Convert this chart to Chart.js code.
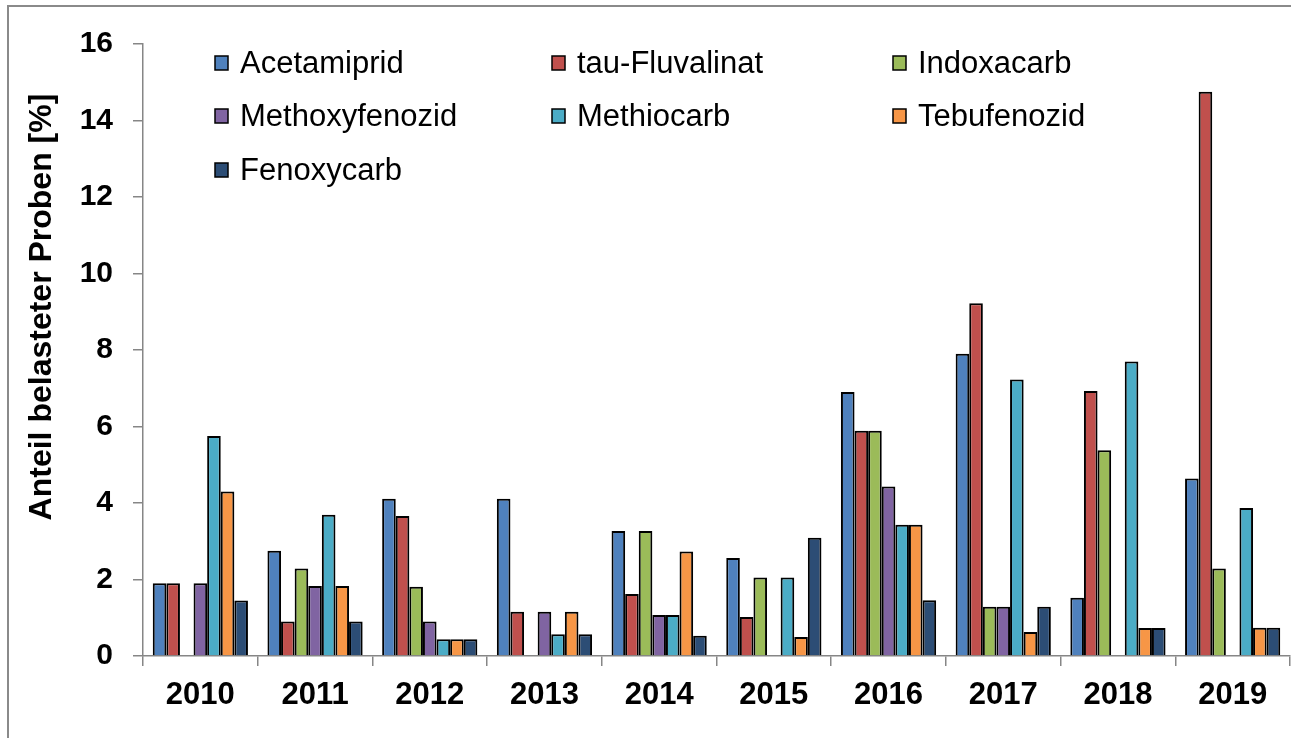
<!DOCTYPE html>
<html>
<head>
<meta charset="utf-8">
<script src="https://cdn.jsdelivr.net/npm/chart.js@4.4.1/dist/chart.umd.min.js"></script>
<style>
  html, body { margin:0; padding:0; background:#fff; }
  #wrap { position:relative; width:1291px; height:738px; overflow:hidden; }
  #frame { position:absolute; left:7px; top:5px; width:1400px; height:900px; border-left:2px solid #8a8a8a; border-top:2px solid #8a8a8a; }
  canvas { position:absolute; left:0; top:0; }
</style>
</head>
<body>
<div id="wrap">
  <div id="frame"></div>
  <canvas id="c" width="1291" height="738"></canvas>
</div>
<script>
const years = ['2010','2011','2012','2013','2014','2015','2016','2017','2018','2019'];
const yTicks = [0, 2, 4, 6, 8, 10, 12, 14, 16];
const axisTitle = 'Anteil belasteter Proben [%]';

const seriesNames = ['Acetamiprid','tau-Fluvalinat','Indoxacarb','Methoxyfenozid','Methiocarb','Tebufenozid','Fenoxycarb'];
const seriesColors = ['#4F81BD','#C0504D','#9BBB59','#8064A2','#4BACC6','#F79646','#2C4D75'];

const acetamiprid    = [1.90, 2.75, 4.11, 4.11, 3.27, 2.56, 6.90, 7.90, 1.52, 4.64];
const tauFluvalinat  = [1.90, 0.90, 3.66, 1.16, 1.62, 1.02, 5.89, 9.22, 6.93, 14.75];
const indoxacarb     = [null, 2.29, 1.81, null, 3.27, 2.05, 5.89, 1.29, 5.38, 2.29];
const methoxyfenozid = [1.90, 1.83, 0.90, 1.16, 1.07, null, 4.43, 1.29, null, null];
const methiocarb     = [5.75, 3.69, 0.44, 0.57, 1.07, 2.05, 3.43, 7.23, 7.70, 3.87];
const tebufenozid    = [4.30, 1.83, 0.44, 1.16, 2.73, 0.50, 3.43, 0.63, 0.73, 0.74];
const fenoxycarb     = [1.45, 0.90, 0.44, 0.57, 0.53, 3.09, 1.46, 1.29, 0.73, 0.74];

const seriesValues = [acetamiprid, tauFluvalinat, indoxacarb, methoxyfenozid, methiocarb, tebufenozid, fenoxycarb];

const datasets = seriesNames.map((name, i) => ({
  label: name,
  data: seriesValues[i],
  backgroundColor: seriesColors[i],
  borderColor: '#000000',
  borderWidth: 2,
  categoryPercentage: 0.83,
  barPercentage: 1.0
}));

const customLegend = {
  id: 'customLegend',
  afterDraw(chart) {
    const ctx = chart.ctx;
    const colX = [215, 552, 893];
    const rowY = [63, 116, 170];
    ctx.save();
    ctx.font = '31px "Liberation Sans", Arial, sans-serif';
    ctx.textBaseline = 'middle';
    ctx.textAlign = 'left';
    chart.data.datasets.forEach((ds, i) => {
      const cx = colX[i % 3];
      const cy = rowY[Math.floor(i / 3)];
      ctx.fillStyle = ds.backgroundColor;
      ctx.fillRect(cx, cy - 7, 13, 14);
      ctx.strokeStyle = '#000';
      ctx.lineWidth = 1.5;
      ctx.strokeRect(cx, cy - 7, 13, 14);
      ctx.fillStyle = '#000';
      ctx.fillText(ds.label, cx + 25, cy + 1);
    });
    // axis title
    ctx.font = 'bold 32px "Liberation Sans", Arial, sans-serif';
    ctx.translate(42, 307);
    ctx.rotate(-Math.PI / 2);
    ctx.textAlign = 'center';
    ctx.textBaseline = 'middle';
    ctx.fillText(axisTitle, 0, 0);
    ctx.restore();
  }
};

new Chart(document.getElementById('c'), {
  type: 'bar',
  data: { labels: years, datasets },
  options: {
    responsive: false,
    animation: false,
    layout: { padding: { top: 44, right: 1, left: 0, bottom: 0 } },
    plugins: { legend: { display: false }, tooltip: { enabled: false } },
    scales: {
      x: {
        grid: { drawOnChartArea: false, drawTicks: true, tickLength: 10, color: '#868686', lineWidth: 1.5, offset: true },
        border: { display: true, color: '#868686', width: 1.5 },
        ticks: { color: '#000', font: { family: '"Liberation Sans", Arial, sans-serif', size: 31, weight: 'bold' }, padding: 11, maxRotation: 0, autoSkip: false },
        afterFit(scale) { scale.height = 82; }
      },
      y: {
        min: 0, max: 16,
        afterBuildTicks(scale) { scale.ticks = yTicks.map(v => ({ value: v })); },
        grid: { drawOnChartArea: false, drawTicks: true, tickLength: 10, color: '#868686', lineWidth: 1.5 },
        border: { display: true, color: '#868686', width: 1.5 },
        ticks: { color: '#000', font: { family: '"Liberation Sans", Arial, sans-serif', size: 30, weight: 'bold' }, padding: 20 },
        afterFit(scale) { scale.width = 143; }
      }
    }
  },
  plugins: [customLegend]
});
</script>
</body>
</html>
